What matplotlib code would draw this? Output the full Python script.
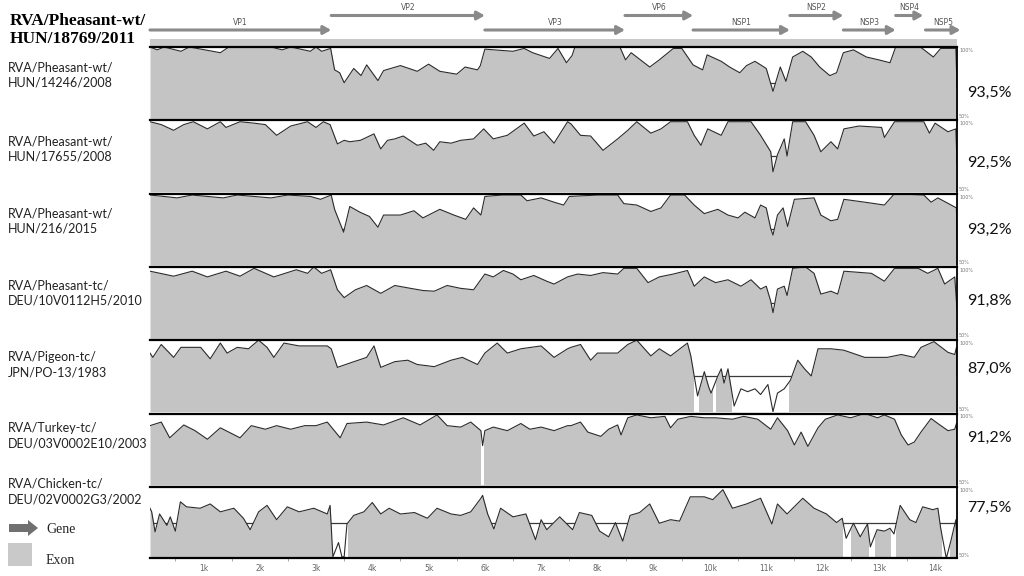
import numpy as np
import matplotlib
matplotlib.use('Agg')
import matplotlib.pyplot as plt
from matplotlib.patches import Rectangle, FancyArrow

# genome annotation (kb)
gene_names = ['VP1', 'VP2', 'VP3', 'VP6', 'NSP1', 'NSP2', 'NSP3', 'NSP4', 'NSP5']
gene_start = [0.05, 3.27, 6.0, 8.49, 9.7, 11.42, 12.37, 13.3, 13.83]
gene_end = [3.27, 6.0, 8.49, 9.7, 11.42, 12.37, 13.3, 13.79, 14.45]

reference = ['RVA/Pheasant-wt/', 'HUN/18769/2011']
strains = ['RVA/Pheasant-wt/\nHUN/14246/2008',
           'RVA/Pheasant-wt/\nHUN/17655/2008',
           'RVA/Pheasant-wt/\nHUN/216/2015',
           'RVA/Pheasant-tc/\nDEU/10V0112H5/2010',
           'RVA/Pigeon-tc/\nJPN/PO-13/1983',
           'RVA/Turkey-tc/\nDEU/03V0002E10/2003',
           'RVA/Chicken-tc/\nDEU/02V0002G3/2002']
identity = ['93,5%', '92,5%', '93,2%', '91,8%', '87,0%', '91,2%', '77,5%']

# similarity curves: (position kb, identity %)
panel1 = [(0.05, 100), (0.18, 98), (0.3, 100), (0.6, 97), (0.75, 100), (1.3, 96), (1.45, 100),
          (2.2, 100), (2.4, 98), (2.55, 100), (2.9, 97), (3.0, 100), (3.1, 97), (3.26, 99),
          (3.33, 84), (3.42, 82), (3.5, 75), (3.67, 85), (3.8, 80), (3.9, 87.5), (4.1, 76.5),
          (4.2, 83.5), (4.5, 87), (4.8, 83), (5.0, 88), (5.2, 83), (5.5, 81), (5.65, 86),
          (5.87, 84), (5.92, 87), (6.0, 98.5), (6.5, 97), (6.7, 99), (6.85, 96), (7.15, 92),
          (7.3, 99), (7.45, 89), (7.55, 94), (7.6, 100), (8.4, 100), (8.5, 91), (8.6, 96),
          (8.93, 86), (9.1, 91), (9.35, 99), (9.5, 99), (9.7, 87.5), (9.87, 84), (9.95, 94.5),
          (10.2, 90), (10.35, 86), (10.53, 82), (10.65, 87), (10.8, 90), (11.0, 85), (11.12, 69),
          (11.25, 86), (11.35, 76), (11.47, 93), (11.65, 97), (11.8, 93), (11.95, 86), (12.13, 80),
          (12.25, 82), (12.37, 96), (12.55, 98), (12.78, 93), (13.0, 91), (13.2, 89), (13.3, 100),
          (13.74, 100), (13.97, 93), (14.1, 99), (14.37, 99), (14.39, 72)]
panel2 = [(0.05, 99), (0.25, 97), (0.47, 93), (0.65, 97), (0.82, 99), (1.07, 94), (1.3, 99),
          (1.4, 95), (1.65, 99), (1.9, 98), (2.1, 97), (2.3, 89.5), (2.55, 96), (2.85, 99),
          (3.0, 95), (3.13, 99), (3.25, 97), (3.38, 83.5), (3.5, 86), (3.6, 85), (3.79, 86),
          (4.03, 90.5), (4.15, 80), (4.27, 86), (4.4, 87), (4.55, 89), (4.8, 82.5), (4.95, 84),
          (5.09, 79), (5.2, 85), (5.4, 84), (5.57, 86), (5.8, 87), (5.98, 94), (6.15, 87),
          (6.4, 89.5), (6.7, 98), (6.87, 89), (7.05, 92), (7.23, 84), (7.47, 99), (7.53, 97.5),
          (7.7, 89.5), (7.88, 89), (8.1, 79), (8.36, 87), (8.54, 93), (8.7, 99), (8.95, 91),
          (9.13, 94), (9.3, 99), (9.6, 99), (9.72, 89.5), (9.84, 82.5), (9.96, 94), (10.2, 89.5),
          (10.32, 99), (10.73, 99), (10.9, 89.5), (11.08, 78), (11.12, 64), (11.2, 76), (11.32, 87),
          (11.37, 75), (11.47, 99), (11.7, 99), (11.85, 89.5), (11.97, 78), (12.15, 85), (12.27, 80),
          (12.38, 94), (12.65, 96), (13.05, 95), (13.1, 88), (13.28, 99), (13.8, 99), (13.9, 91),
          (14.0, 98), (14.23, 92), (14.37, 94), (14.39, 70)]
panel3 = [(0.05, 99), (0.3, 98), (0.53, 97), (0.8, 99), (1.35, 97), (1.6, 99), (2.2, 97),
          (2.5, 99), (2.9, 98), (3.08, 96), (3.27, 99), (3.33, 89), (3.49, 73), (3.6, 91),
          (3.78, 87), (3.95, 84), (4.1, 76.5), (4.2, 85), (4.5, 85), (4.74, 88), (4.9, 83),
          (5.2, 89), (5.45, 85), (5.66, 82), (5.8, 90), (5.93, 85), (6.0, 98), (6.3, 99),
          (6.64, 99), (6.75, 95), (7.0, 97), (7.23, 94), (7.4, 92), (7.5, 98), (8.0, 99),
          (8.36, 99), (8.47, 93), (8.7, 92), (8.95, 87.5), (9.13, 90), (9.3, 99), (9.55, 99),
          (9.72, 92), (9.9, 86), (10.14, 89), (10.32, 85), (10.5, 83), (10.62, 87), (10.8, 83),
          (10.9, 92), (11.0, 90), (11.08, 75.5), (11.12, 71), (11.2, 85), (11.3, 90), (11.38, 77),
          (11.5, 96), (11.85, 97), (11.97, 85), (12.15, 81), (12.27, 82), (12.38, 96), (12.75, 94),
          (13.1, 92), (13.28, 100), (13.8, 99), (13.93, 94), (14.05, 97), (14.38, 90), (14.39, 68)]
panel4 = [(0.05, 97), (0.47, 93.5), (0.8, 97), (1.07, 93), (1.4, 97), (1.65, 93.5), (1.9, 99),
          (2.25, 93), (2.65, 98), (2.85, 95.5), (2.96, 100), (3.1, 95.5), (3.26, 98), (3.38, 84),
          (3.5, 78.5), (3.7, 84), (3.9, 87), (4.15, 81.5), (4.4, 87), (4.68, 85), (4.9, 83.5),
          (5.1, 83), (5.33, 87), (5.57, 85), (5.8, 84), (6.0, 95), (6.15, 93), (6.33, 97.5),
          (6.5, 95), (6.64, 91), (6.87, 94), (7.1, 90), (7.23, 88), (7.47, 93), (7.65, 95),
          (7.88, 94), (8.1, 96), (8.36, 95), (8.47, 99), (8.7, 99), (8.9, 89), (9.1, 93),
          (9.35, 95), (9.6, 97.5), (9.72, 86.5), (9.9, 93), (10.1, 89), (10.32, 91), (10.55, 86.5),
          (10.73, 91), (10.9, 84.5), (11.0, 86.5), (11.08, 76), (11.12, 68), (11.2, 84.5),
          (11.32, 86.5), (11.37, 80), (11.47, 99), (11.7, 100), (11.85, 95.5), (11.97, 81),
          (12.15, 83), (12.27, 81), (12.38, 97), (12.87, 95.5), (13.1, 90), (13.28, 99), (13.7, 99),
          (13.87, 95.5), (14.05, 99), (14.17, 88), (14.35, 93), (14.39, 70)]
panel5 = [(0.05, 91), (0.1, 88), (0.25, 97), (0.47, 88), (0.6, 95), (0.95, 95), (1.12, 87),
          (1.3, 98), (1.42, 91), (1.6, 95), (1.8, 94), (1.98, 100), (2.13, 95), (2.25, 88),
          (2.43, 98), (2.7, 96), (3.2, 96), (3.27, 94), (3.38, 81), (3.6, 84), (3.9, 88),
          (4.03, 96), (4.15, 81), (4.4, 85), (4.63, 86), (4.8, 83), (5.1, 81.5), (5.4, 86),
          (5.6, 88), (5.87, 83), (6.0, 91), (6.22, 98), (6.4, 91), (6.64, 94), (7.0, 96),
          (7.23, 88), (7.47, 94), (7.53, 95), (7.7, 97), (7.88, 86), (8.0, 91), (8.36, 91),
          (8.54, 97), (8.7, 100), (8.95, 89), (9.1, 94), (9.3, 89), (9.6, 98), (9.66, 89),
          (9.72, 75), (9.78, 61), (9.9, 78), (9.98, 67), (10.02, 63), (10.14, 75), (10.2, 80),
          (10.25, 70), (10.32, 80), (10.43, 54), (10.55, 66), (10.67, 64), (10.8, 66), (10.9, 62),
          (11.03, 69), (11.12, 50), (11.2, 63), (11.32, 66), (11.43, 72), (11.56, 86), (11.68, 80),
          (11.8, 75), (11.92, 94), (12.15, 94), (12.38, 93), (12.75, 88), (13.15, 88), (13.4, 90),
          (13.63, 88), (13.75, 95), (13.98, 99), (14.23, 91.5), (14.35, 90), (14.38, 95), (14.39, 75)]
panel6 = [(0.05, 91.5), (0.25, 94), (0.4, 83), (0.65, 92), (0.85, 88), (1.07, 82), (1.3, 90),
          (1.5, 86), (1.65, 83), (1.85, 91.5), (2.1, 89), (2.3, 91.5), (2.55, 89), (2.8, 91.5),
          (3.0, 91.5), (3.2, 94), (3.43, 83), (3.55, 93), (3.9, 94), (4.2, 92), (4.55, 97),
          (4.85, 92), (5.15, 99), (5.33, 91.5), (5.57, 90.5), (5.75, 94), (5.93, 88), (5.96, 77.5),
          (6.0, 88), (6.15, 90.5), (6.4, 88), (6.64, 93), (6.8, 89), (7.0, 90.5), (7.23, 88),
          (7.47, 91.5), (7.53, 91.5), (7.7, 94), (7.83, 87), (8.06, 84), (8.2, 89), (8.36, 92),
          (8.42, 85), (8.54, 97), (8.7, 99), (8.95, 97), (9.2, 98), (9.3, 90), (9.43, 96),
          (9.66, 98), (9.9, 97), (10.1, 97), (10.4, 96), (10.6, 98), (10.85, 96), (11.08, 89),
          (11.2, 97), (11.38, 88), (11.5, 78), (11.62, 87), (11.74, 77), (11.92, 90), (12.05, 96),
          (12.27, 99), (12.5, 97), (12.75, 100), (12.98, 97), (13.1, 99), (13.28, 96), (13.4, 85),
          (13.52, 78), (13.63, 80), (13.75, 87), (13.93, 96.5), (14.05, 93), (14.23, 88),
          (14.35, 89), (14.38, 93), (14.39, 67)]
panel7 = [(0.05, 85), (0.08, 82.5), (0.14, 68.5), (0.22, 81), (0.35, 73), (0.41, 79), (0.5, 69),
          (0.59, 89.5), (0.7, 86), (0.94, 85), (1.12, 88), (1.3, 82.5), (1.54, 85), (1.71, 78),
          (1.83, 70), (1.98, 82.5), (2.13, 87), (2.3, 77), (2.49, 86), (2.7, 82.5), (2.96, 85),
          (3.2, 81), (3.25, 87), (3.3, 51), (3.4, 61), (3.46, 51), (3.5, 51), (3.55, 74),
          (3.67, 80), (3.85, 82.5), (4.0, 89), (4.15, 81), (4.3, 85), (4.5, 81), (4.75, 82),
          (4.98, 78), (5.15, 85), (5.4, 81), (5.57, 80), (5.75, 82.5), (5.93, 92), (5.96, 94),
          (6.05, 81), (6.16, 70.5), (6.28, 85), (6.5, 79), (6.73, 81), (6.9, 63), (7.0, 77),
          (7.1, 70), (7.33, 79), (7.56, 70), (7.68, 82), (7.9, 80), (8.04, 69), (8.2, 65),
          (8.32, 75), (8.45, 62), (8.58, 80), (8.75, 82), (8.93, 88), (9.1, 74.5), (9.3, 77),
          (9.46, 76), (9.65, 93), (9.9, 93), (10.05, 91), (10.23, 98), (10.4, 85), (10.65, 88),
          (10.9, 92), (11.1, 74), (11.2, 88), (11.37, 81), (11.65, 92), (11.85, 85), (12.07, 81),
          (12.25, 75), (12.35, 78), (12.42, 64), (12.55, 74.5), (12.67, 65), (12.8, 74),
          (12.85, 58), (12.97, 70), (13.1, 69), (13.2, 71), (13.27, 67), (13.38, 87), (13.55, 77),
          (13.66, 75), (13.78, 86), (13.96, 84), (14.05, 85), (14.1, 71), (14.2, 50), (14.28, 62),
          (14.37, 77), (14.39, 61)]
panels = [panel1, panel2, panel3, panel4, panel5, panel6, panel7]

# stretches left unshaded (kb)
gaps = [[], [], [], [], [(9.72, 9.8), (10.05, 10.1), (10.4, 11.4)], [(5.94, 5.98)],
        [(3.29, 3.56), (12.37, 12.5), (12.83, 12.94), (13.22, 13.3), (14.12, 14.26)]]

W, H = 1024, 576


def px_rect(x0, y0, x1, y1):
    return [x0 / W, 1 - y1 / H, (x1 - x0) / W, (y1 - y0) / H]


fig = plt.figure(figsize=(10.24, 5.76), dpi=100)

x_left, x_right = 150, 957
kb_min, kb_max = 0.05, 14.39
top0, step, ph = 47, 73.3, 71.5
FILL = '#c4c4c4'

# header with genes
hx = fig.add_axes(px_rect(x_left, 0, x_right, top0))
hx.set_xlim(kb_min, kb_max)
hx.set_ylim(top0, 0)
hx.axis('off')
hx.axhspan(38.5, 46.5, color='#c9c9c9', lw=0)
for i, name in enumerate(gene_names):
    row = 15.5 if i % 2 else 30
    hx.annotate('', xy=(gene_end[i], row), xytext=(gene_start[i], row),
                arrowprops=dict(arrowstyle='-|>,head_length=0.45,head_width=0.25',
                                color='#8a8a8a', lw=2.2, shrinkA=0, shrinkB=0),
                annotation_clip=False)
    hx.text((gene_start[i] + gene_end[i]) / 2, row - 7.5, name, ha='center', va='center',
            fontsize=5.5, color='#555555', family='DejaVu Sans')

for i, pairs in enumerate(panels):
    kb, pct = np.array(pairs).T
    top = top0 + i * step
    ax = fig.add_axes(px_rect(x_left, top, x_right, top + ph))
    ax.set_xlim(kb_min, kb_max)
    ax.set_ylim(50, 100)
    ax.fill_between(kb, 50, pct, color=FILL, lw=0)
    for a, b in gaps[i]:
        ax.axvspan(a, b, color='white', lw=0)
    above = ax.fill_between(kb, pct, 101, facecolor='none', edgecolor='none')
    thr = ax.axhline(75, color='#3a3a3a', lw=0.9)
    thr.set_clip_path(above.get_paths()[0], above.get_transform())
    ax.plot(kb, pct, color='#2b2b2b', lw=0.8)
    ax.spines['left'].set_visible(False)
    ax.spines['top'].set_linewidth(1.6)
    ax.spines['right'].set_linewidth(1.3)
    ax.set_yticks([])
    if i < len(panels) - 1:
        ax.spines['bottom'].set_visible(False)
        ax.set_xticks([])
    else:
        ax.spines['bottom'].set_linewidth(1.6)
        ax.set_xticks(range(1, 15))
        ax.set_xticklabels([f'{k}k' for k in range(1, 15)], fontsize=5.5, color='#666666')
        ax.set_xticks(np.arange(0.5, 14.4, 1.0), minor=True)
        ax.tick_params(axis='x', which='major', length=0, pad=4)
        ax.tick_params(axis='x', which='minor', length=2.5, color='#999999')

# text overlay in pixel coordinates
ov = fig.add_axes([0, 0, 1, 1])
ov.set_xlim(0, W)
ov.set_ylim(H, 0)
ov.axis('off')

ov.text(10, 25, reference[0], fontsize=12.5, fontweight='bold', family='Liberation Serif')
ov.text(10, 43, reference[1], fontsize=12.5, fontweight='bold', family='Liberation Serif')

label_base = [71, 145, 217, 289, 361, 432, 488]
pct_base = [97, 167, 234, 305, 373, 442, 512]
for i, lab in enumerate(strains):
    l1, l2 = lab.split('\n')
    ov.text(8, label_base[i], l1, fontsize=9, family='Lato', color='#222222')
    ov.text(8, label_base[i] + 15.5, l2, fontsize=9, family='Lato', color='#222222')
    ov.text(967, pct_base[i], identity[i], fontsize=11.5, family='Lato', color='#111111')
    top = top0 + i * step
    ov.text(959, top + 5, '100%', fontsize=3.5, color='#777777', family='DejaVu Sans')
    ov.text(959, top + ph - 1, '50%', fontsize=3.5, color='#777777', family='DejaVu Sans')

# legend
ov.add_patch(FancyArrow(9, 528, 29, 0, width=8, head_width=16, head_length=10,
                        length_includes_head=True, color='#707070', lw=0))
ov.text(46, 533, 'Gene', fontsize=10, family='Liberation Serif', color='#222222')
ov.add_patch(Rectangle((8, 543), 24, 23, color='#c9c9c9', lw=0))
ov.text(46, 564, 'Exon', fontsize=10, family='Liberation Serif', color='#222222')

fig.savefig('out.png', dpi=100)
